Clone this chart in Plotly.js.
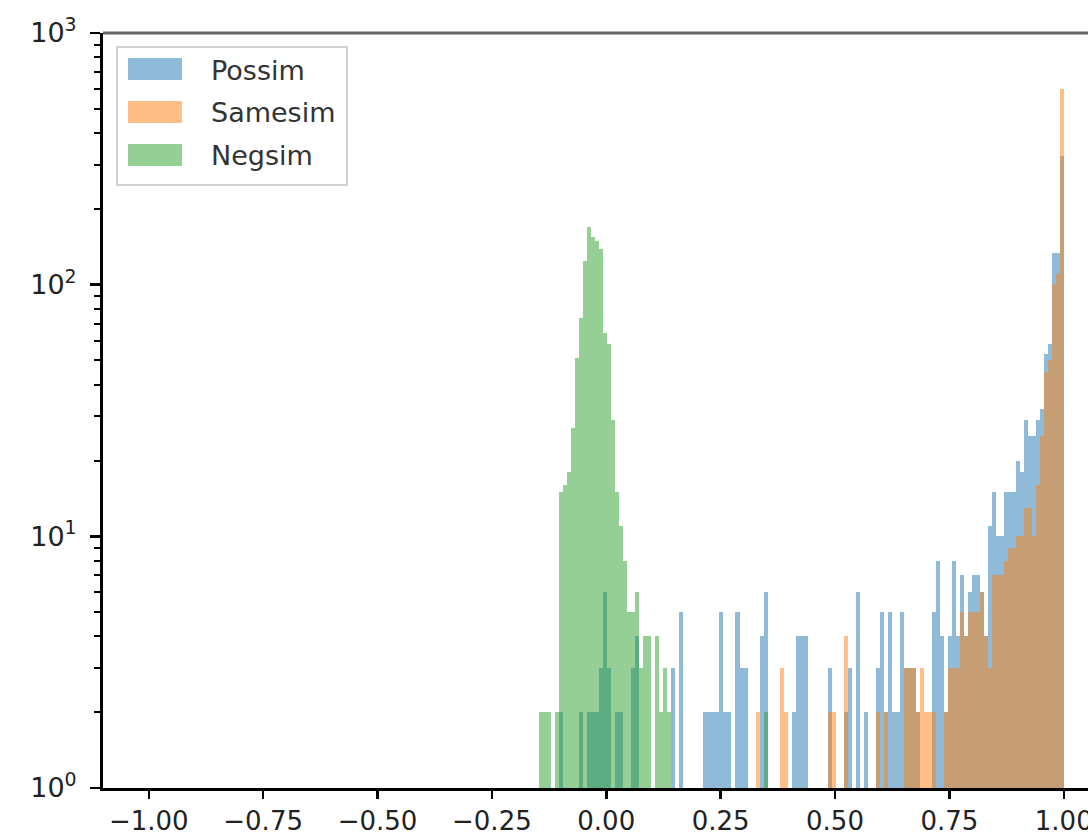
<!DOCTYPE html>
<html>
<head>
<meta charset="utf-8">
<script src="https://cdn.plot.ly/plotly-3.0.1.min.js"></script>
<style>html,body{margin:0;padding:0;background:#fff;overflow:hidden}</style>
</head>
<body>
<div id="chart" style="width:1088px;height:836px"></div>
<script>
// ---- data (bin centres and counts) ----
const seriesNames = ["Possim", "Samesim", "Negsim"];
const binWidth = 0.00875;

const posX = [-0.098125,-0.054375,-0.036875,-0.028125,-0.019375,-0.010625,-0.001875,0.006875,0.024375,0.033125,
  0.059375,0.068125,0.146875,0.164375,0.216875,0.225625,0.234375,0.243125,0.251875,0.260625,0.269375,
  0.286875,0.295625,0.304375,0.339375,0.348125,0.409375,0.418125,0.426875,0.435625,0.488125,0.523125,
  0.531875,0.549375,0.566875,0.593125,0.601875,0.610625,0.619375,0.628125,0.636875,0.645625,0.654375,
  0.663125,0.671875,0.680625,0.715625,0.724375,0.733125,0.741875,0.750625,0.759375,0.768125,0.776875,
  0.785625,0.794375,0.803125,0.811875,0.820625,0.829375,0.838125,0.846875,0.855625,0.864375,0.873125,
  0.881875,0.890625,0.899375,0.908125,0.916875,0.925625,0.934375,0.943125,0.951875,0.960625,0.969375,
  0.978125,0.986875,0.995625];
const posY = [2,2,2,2,2,3,6,3,2,2,
  3,4,3,5,2,2,2,2,5,2,2,
  5,3,3,4,6,2,4,4,4,3,2,
  3,6,2,3,5,2,5,2,2,5,3,
  3,3,2,5,8,4,2,4,8,4,7,
  4,6,7,7,6,4,11,15,10,10,15,
  15,15,20,18,29,25,25,29,32,53,58,
  134,134,324];

const sameX = [0.330625,0.383125,0.391875,0.488125,0.496875,0.523125,0.593125,0.610625,0.654375,0.663125,
  0.671875,0.680625,0.689375,0.698125,0.706875,0.715625,0.741875,0.750625,0.759375,0.768125,0.776875,
  0.785625,0.794375,0.803125,0.811875,0.820625,0.829375,0.838125,0.846875,0.855625,0.864375,0.873125,
  0.881875,0.890625,0.899375,0.908125,0.916875,0.925625,0.934375,0.943125,0.951875,0.960625,0.969375,
  0.978125,0.986875,0.995625];
const sameY = [2,3,2,2,2,4,2,2,3,3,
  3,2,3,2,2,2,2,3,3,3,5,
  4,5,5,5,6,4,3,7,7,7,8,
  9,9,10,10,13,13,10,16,25,45,50,
  101,110,600];

const negX = [-0.141875,-0.133125,-0.124375,-0.106875,-0.098125,-0.089375,-0.080625,-0.071875,-0.063125,
  -0.054375,-0.045625,-0.036875,-0.028125,-0.019375,-0.010625,-0.001875,0.006875,0.015625,0.024375,
  0.033125,0.041875,0.050625,0.059375,0.068125,0.076875,0.085625,0.094375,0.111875,0.120625,0.129375,
  0.138125,0.348125];
const negY = [2,2,2,2,15,16,18,27,51,
  74,124,170,155,149,138,64,58,29,15,
  11,8,5,5,6,3,4,4,4,2,3,
  2,2];

const xTickVals = [-1.0,-0.75,-0.5,-0.25,0,0.25,0.5,0.75,1.0];
const xTickText = ["\u22121.00","\u22120.75","\u22120.50","\u22120.25","0.00","0.25","0.50","0.75","1.00"];
const yTickVals = [1,10,100,1000];
const yTickText = ["10<sup>0</sup>","10<sup>1</sup>","10<sup>2</sup>","10<sup>3</sup>"];
const yMinorVals = [2,3,4,5,6,7,8,9,20,30,40,50,60,70,80,90,200,300,400,500,600,700,800,900];

const colors = ["rgba(31,119,180,0.5)","rgba(255,127,14,0.5)","rgba(44,160,44,0.5)"];

// ---- layout helpers (pixel -> paper) ----
const L = 103, T = 33, W = 1088, H = 836, B = 48;
const plotW = W - L, plotH = H - T - B;
const P = px => (px - L) / plotW;
const Q = py => (H - B - py) / plotH;

const font = "DejaVu Sans, sans-serif";

const traces = [
  {type:"bar", x:posX, y:posY, width:binWidth, name:seriesNames[0], marker:{color:colors[0], line:{width:0}}},
  {type:"bar", x:sameX, y:sameY, width:binWidth, name:seriesNames[1], marker:{color:colors[1], line:{width:0}}},
  {type:"bar", x:negX, y:negY, width:binWidth, name:seriesNames[2], marker:{color:colors[2], line:{width:0}}}
];

const shapes = [
  {type:"line", xref:"paper", yref:"paper", x0:0, x1:1, y0:1, y1:1, line:{color:"#666666", width:3}},
  {type:"rect", xref:"paper", yref:"paper", x0:P(117), x1:P(347), y0:Q(185), y1:Q(47),
   line:{color:"#d0d0d0", width:2}, fillcolor:"rgba(255,255,255,0.8)"}
];
const patchTop = [58, 101, 144];
const annotations = [];
seriesNames.forEach((n, i) => {
  shapes.push({type:"rect", xref:"paper", yref:"paper", x0:P(128), x1:P(182),
    y0:Q(patchTop[i] + 22), y1:Q(patchTop[i]), line:{width:0}, fillcolor:colors[i]});
  annotations.push({xref:"paper", yref:"paper", x:P(209), y:Q(patchTop[i] + 12), text:n,
    showarrow:false, xanchor:"left", yanchor:"middle", font:{family:font, size:27, color:"#333"}});
});

const layout = {
  width: W, height: H,
  margin: {l:L, r:0, t:T, b:B, pad:0},
  paper_bgcolor:"#fff", plot_bgcolor:"#fff",
  barmode:"overlay", bargap:0, showlegend:false,
  xaxis: {
    range:[-1.1, -1.1 + plotW/457.5], showgrid:false, zeroline:false,
    showline:true, linecolor:"#000", linewidth:3,
    ticks:"outside", ticklen:8, tickwidth:2.5, tickcolor:"#000",
    tickmode:"array", tickvals:xTickVals, ticktext:xTickText,
    ticklabeloverflow:"allow", ticklabelstandoff:0,
    tickfont:{family:font, size:26, color:"#222"}
  },
  yaxis: {
    type:"log", range:[0,3], showgrid:false, zeroline:false,
    showline:true, linecolor:"#000", linewidth:3,
    ticks:"outside", ticklen:10, tickwidth:2.5, tickcolor:"#000",
    tickmode:"array", tickvals:yTickVals, ticktext:yTickText,
    ticklabelstandoff:8, ticklabeloverflow:"allow",
    tickfont:{family:font, size:27, color:"#222"},
    minor:{tickmode:"array", tickvals:yMinorVals, ticks:"outside", ticklen:6, tickwidth:2, tickcolor:"#000", showgrid:false}
  },
  shapes: shapes,
  annotations: annotations
};

Plotly.newPlot("chart", traces, layout, {staticPlot:true, displayModeBar:false});
</script>
</body>
</html>
